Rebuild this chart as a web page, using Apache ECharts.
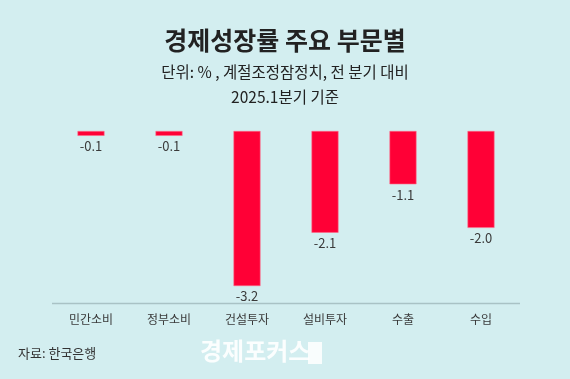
<!DOCTYPE html>
<html><head><meta charset="utf-8">
<script src="https://cdn.jsdelivr.net/npm/echarts@6/dist/echarts.min.js"></script>
<style>html,body{margin:0;padding:0;background:#d3eef0;}#c{width:570px;height:379px;}</style>
</head><body><div id="c"></div>
<script>
const categories = ['민간소비','정부소비','건설투자','설비투자','수출','수입'];
const values = [-0.1,-0.1,-3.2,-2.1,-1.1,-2.0];
const titleText = '경제성장률 주요 부문별';
const subText1 = '단위: % , 계절조정잠정치, 전 분기 대비';
const subText2 = '2025.1분기 기준';
const sourceText = '자료: 한국은행';
const font = '"Noto Sans CJK KR","Noto Sans",sans-serif';
const chart = echarts.init(document.getElementById('c'));
chart.setOption({
  backgroundColor:'#d3eef0',
  animation:false,
  grid:{left:52,right:50,top:131,bottom:76,containLabel:false},
  xAxis:{type:'category',data:categories,position:'bottom',
    axisLine:{show:false},axisTick:{show:false},
    axisLabel:{color:'#3a3a3a',fontSize:12,fontFamily:font,margin:10}},
  yAxis:{type:'value',min:-3.55,max:0,show:false,splitLine:{show:false}},
  series:[{type:'bar',data:values,barWidth:27,
    itemStyle:{color:'#ff0036',borderColor:'#ff6a88',borderWidth:0.6},
    label:{show:true,position:'bottom',distance:4,color:'#3a3a3a',fontSize:13,fontFamily:font,
      formatter:p=>p.value.toFixed(1)}}],
  graphic:[
    {type:'line',shape:{x1:52,y1:303.5,x2:520,y2:303.5},style:{stroke:'#a9c2c5',lineWidth:1.5}},
    {type:'text',left:'center',top:28,style:{text:titleText,fontSize:25,fontWeight:'bold',fill:'#222',fontFamily:font}},
    {type:'text',left:'center',top:64,style:{text:subText1,fontSize:15.5,fill:'#222',fontFamily:font}},
    {type:'text',left:'center',top:89,style:{text:subText2,fontSize:15.5,fill:'#222',fontFamily:font}},
    {type:'text',left:18,top:347,style:{text:sourceText,fontSize:13,fill:'#333',fontFamily:font}},
    {type:'text',left:200,top:339,style:{text:'경제포커스',fontSize:24,fontWeight:'bold',fill:'rgba(255,255,255,0.9)',fontFamily:font}},
    {type:'rect',shape:{x:308,y:342,width:14,height:22},style:{fill:'rgba(255,255,255,0.85)'}}
  ]
});
</script></body></html>
